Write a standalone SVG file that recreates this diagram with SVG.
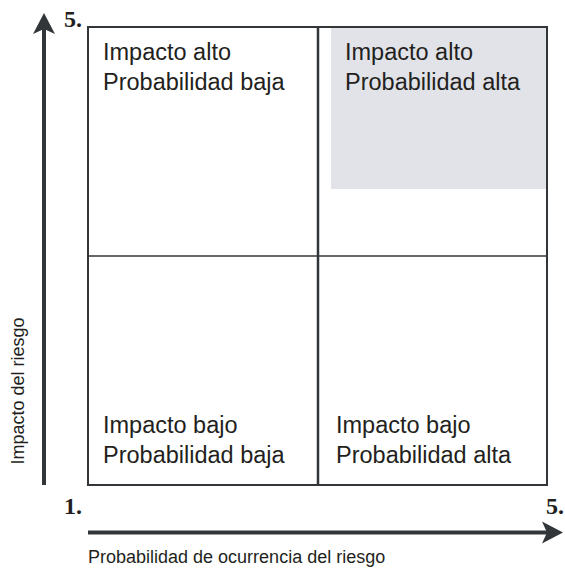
<svg xmlns="http://www.w3.org/2000/svg" width="565" height="568" viewBox="0 0 565 568">
<style>
.q{font-family:"Liberation Sans",Arial,sans-serif;font-size:23.5px;fill:#231f20}
.ax{font-family:"Liberation Sans",Arial,sans-serif;font-size:18px;fill:#231f20}
.n{font-family:"Liberation Serif","Times New Roman",serif;font-size:24px;font-weight:bold;fill:#231f20}
.ln{stroke:#333638;fill:none}
.ah{fill:#333638}
</style>
<rect width="565" height="568" fill="#ffffff"/>
<g id="highlight">
<rect x="331" y="27" width="216" height="162" fill="#e1e3e8"/>
</g>
<g id="grid">
<rect class="ln" x="88" y="27" width="459" height="458" stroke-width="2"/>
<line class="ln" x1="318" y1="27" x2="318" y2="485" stroke-width="2.5"/>
<line class="ln" x1="88" y1="256" x2="547" y2="256" stroke-width="1.5"/>
</g>
<g id="q1"><text class="q" x="103" y="60">Impacto alto</text><text class="q" x="103" y="90">Probabilidad baja</text></g>
<g id="q2"><text class="q" x="345" y="60">Impacto alto</text><text class="q" x="345" y="90">Probabilidad alta</text></g>
<g id="q3"><text class="q" x="103" y="433">Impacto bajo</text><text class="q" x="103" y="463">Probabilidad baja</text></g>
<g id="q4"><text class="q" x="336" y="433">Impacto bajo</text><text class="q" x="336" y="463">Probabilidad alta</text></g>
<g id="connectors">
<line class="ln" x1="44" y1="485" x2="44" y2="28" stroke-width="4"/>
<path class="ah" d="M44,13 L55,34 L44,29 L33,34 Z"/>
<line class="ln" x1="88" y1="532.5" x2="548" y2="532.5" stroke-width="4"/>
<path class="ah" d="M563,532.5 L542,543.5 L547,532.5 L542,521.5 Z"/>
</g>
<g id="labels">
<text class="n" x="64" y="27">5.</text>
<text class="n" x="64" y="514">1.</text>
<text class="n" x="546" y="514">5.</text>
<text class="ax" x="88" y="563">Probabilidad de ocurrencia del riesgo</text>
<text class="ax" text-anchor="middle" transform="translate(24,391) rotate(-90)">Impacto del riesgo</text>
</g>
</svg>
